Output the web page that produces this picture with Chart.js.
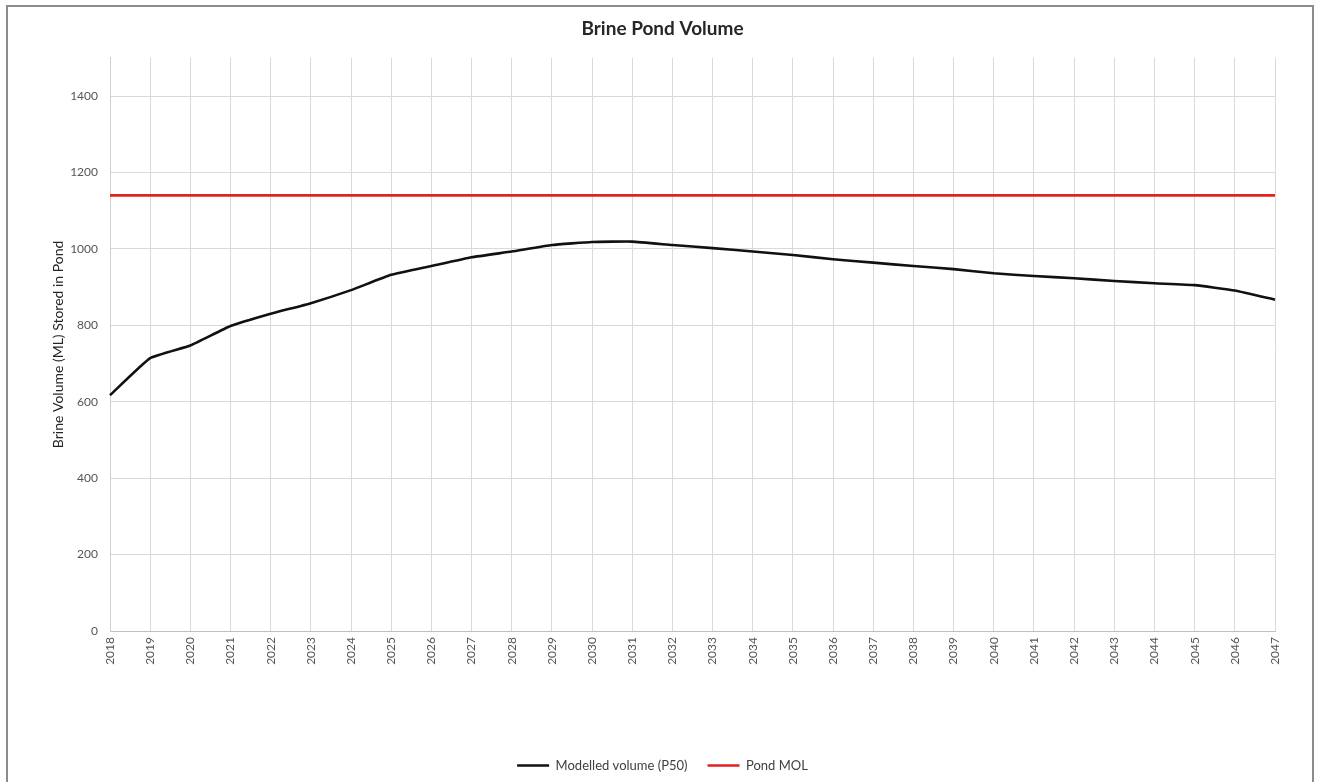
<!DOCTYPE html>
<html>
<head>
<meta charset="utf-8">
<title>Brine Pond Volume</title>
<script src="https://cdn.jsdelivr.net/npm/chart.js@4.4.1/dist/chart.umd.min.js"></script>
<style>
  html, body { margin: 0; padding: 0; background: #fff; }
  #wrap { position: relative; width: 1320px; height: 782px; overflow: hidden; }
  #frame {
    position: absolute; left: 6px; top: 5px; width: 1308px; height: 820px;
    border: 2px solid #8c8c8c; box-sizing: border-box; pointer-events: none;
  }
</style>
</head>
<body>
<div id="wrap">
  <canvas id="pondChart"></canvas>
  <div id="frame"></div>
</div>

<script>
/* ─── Data ─── */
const years = ['2018','2019','2020','2021','2022','2023','2024','2025','2026','2027',
               '2028','2029','2030','2031','2032','2033','2034','2035','2036','2037',
               '2038','2039','2040','2041','2042','2043','2044','2045','2046','2047'];

// modelled volume (P50), ML
const modelledVolume = [617, 714, 747, 798, 830, 858, 892, 932, 955, 978,
                        993, 1010, 1018, 1019, 1010, 1002, 993, 984, 973, 964,
                        955, 947, 936, 929, 923, 916, 910, 905, 891, 867];

// pond MOL, ML
const pondMol = [1140, 1140, 1140, 1140, 1140, 1140, 1140, 1140, 1140, 1140,
                 1140, 1140, 1140, 1140, 1140, 1140, 1140, 1140, 1140, 1140,
                 1140, 1140, 1140, 1140, 1140, 1140, 1140, 1140, 1140, 1140];

const yTicks = [0, 200, 400, 600, 800, 1000, 1200, 1400];

/* ─── Chart ─── */
const FONT = 'Lato, "Liberation Sans", sans-serif';
const GRID = '#d9d9d9';
const TICK = '#555';

new Chart(document.getElementById('pondChart'), {
  type: 'line',
  data: {
    labels: years,
    datasets: [
      {
        label: 'Modelled volume (P50)',
        data: modelledVolume,
        borderColor: '#111',
        backgroundColor: '#111',
        borderWidth: 2.6,
        pointRadius: 0,
        tension: 0.12
      },
      {
        label: 'Pond MOL',
        data: pondMol,
        borderColor: '#e3211f',
        backgroundColor: '#e3211f',
        borderWidth: 2.6,
        pointRadius: 0
      }
    ]
  },
  options: {
    responsive: true,
    maintainAspectRatio: false,
    animation: false,
    layout: { padding: { left: 50, right: 45, top: 0, bottom: 0 } },
    plugins: {
      title: {
        display: true,
        text: 'Brine Pond Volume',
        color: '#262626',
        font: { family: FONT, size: 19, weight: 'bold' },
        padding: { top: 17, bottom: 18 }
      },
      legend: {
        position: 'bottom',
        labels: {
          usePointStyle: true,
          pointStyle: 'line',
          pointStyleWidth: 32,
          color: '#404040',
          font: { family: FONT, size: 13 },
          padding: 20
        }
      },
      tooltip: { enabled: false }
    },
    scales: {
      x: {
        grid: { color: GRID, drawTicks: false },
        border: { color: '#bfbfbf' },
        ticks: {
          minRotation: 90,
          maxRotation: 90,
          color: TICK,
          font: { family: FONT, size: 12 },
          padding: 6
        },
        afterFit: s => { s.height = 108; }
      },
      y: {
        min: 0,
        max: 1500,
        afterBuildTicks: s => { s.ticks = yTicks.map(v => ({ value: v })); },
        afterFit: s => { s.width = 60; },
        grid: { color: GRID, drawTicks: false },
        border: { color: '#cfcfcf' },
        ticks: {
          color: TICK,
          font: { family: FONT, size: 12 },
          padding: 12,
          callback: v => String(v)
        },
        title: {
          display: true,
          text: 'Brine Volume (ML) Stored in Pond',
          color: '#262626',
          font: { family: FONT, size: 14 },
          padding: { top: 0, bottom: 0 }
        }
      }
    }
  }
});
</script>
</body>
</html>
